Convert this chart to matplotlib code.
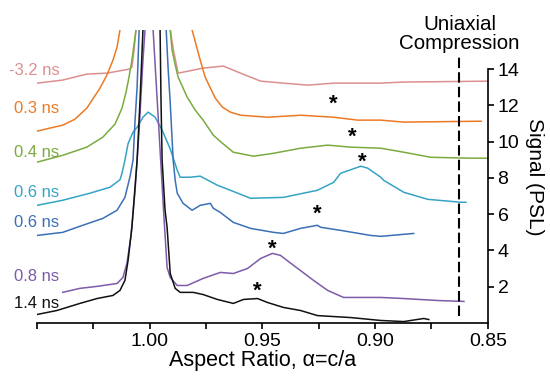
import matplotlib.pyplot as plt
from matplotlib.ticker import MultipleLocator

plt.rcParams['font.family'] = ['Liberation Sans', 'DejaVu Sans']

# traces (x = aspect ratio, y = signal + offset)
pink_x = [1.050, 1.0386, 1.0279, 1.0190, 1.0088, 1.0079, 1.0070, 1.0061, 1.002, 0.996,
          0.9909, 0.9894, 0.9874, 0.9763, 0.9673, 0.9597, 0.9508, 0.9407, 0.9300, 0.9184,
          0.8975, 0.8873, 0.8494]
pink_y = [13.23, 13.40, 13.73, 13.78, 14.01, 14.12, 15.0, 16.16, 20, 20,
          16.16, 15.0, 13.78, 14.06, 14.17, 13.78, 13.34, 13.23, 13.12, 13.23,
          13.23, 13.29, 13.34]

orange_x = [1.050, 1.0443, 1.0386, 1.0332, 1.0279, 1.0221, 1.0190, 1.0163, 1.0145, 1.0132,
            1.008, 1.000, 0.990, 0.9812, 0.9794, 0.9776, 0.9754, 0.9731, 0.9709, 0.9678,
            0.9642, 0.9597, 0.9477, 0.9331, 0.9184, 0.9077, 0.8975, 0.8873, 0.8530]
orange_y = [10.58, 10.75, 10.91, 11.24, 11.85, 12.95, 13.67, 14.50, 15.22, 16.16,
            19, 22, 19, 16.16, 15.33, 14.50, 13.56, 12.96, 12.40, 11.91,
            11.63, 11.46, 11.35, 11.46, 11.35, 11.19, 11.19, 11.08, 11.13]

green_x = [1.050, 1.0386, 1.0279, 1.0208, 1.0154, 1.0123, 1.0105, 1.0092, 1.0079, 1.0070,
           1.0061, 1.002, 0.995, 0.9909, 0.9901, 0.9887, 0.9874, 0.9852, 0.9834, 0.9798,
           0.9763, 0.9718, 0.9678, 0.9629, 0.9539, 0.9451, 0.9331, 0.9211, 0.9108, 0.8975,
           0.8873, 0.8753, 0.8575, 0.8494]
green_y = [8.87, 9.25, 9.70, 10.25, 10.97, 11.85, 12.73, 13.56, 14.50, 15.33,
           16.16, 20, 20, 16.16, 15.06, 14.23, 13.56, 12.96, 12.46, 11.74,
           11.19, 10.36, 9.92, 9.42, 9.20, 9.36, 9.64, 9.81, 9.70, 9.64,
           9.42, 9.14, 9.09, 9.09]

teal_x = [1.050, 1.0386, 1.0265, 1.0176, 1.0132, 1.0123, 1.0110, 1.0096, 1.0074, 1.0056,
          1.0030, 1.0007, 0.9976, 0.9945, 0.9909, 0.9878, 0.9865, 0.9821, 0.9776, 0.9700,
          0.9642, 0.9553, 0.9407, 0.9256, 0.9184, 0.9153, 0.9077, 0.9064, 0.9033, 0.8975,
          0.8962, 0.8873, 0.8766, 0.8619, 0.8597]
teal_y = [6.49, 6.77, 7.16, 7.49, 7.9, 8.26, 8.98, 9.9, 10.53, 10.80,
          11.35, 11.63, 11.35, 10.64, 9.6, 8.43, 8.04, 8.04, 8.10, 7.6,
          7.32, 6.88, 6.93, 7.32, 7.76, 8.26, 8.59, 8.65, 8.54, 8.04,
          7.87, 7.21, 6.82, 6.66, 6.66]

blue_x = [1.050, 1.0386, 1.0297, 1.0208, 1.0145, 1.0110, 1.0088, 1.0074, 1.0065, 1.0056,
          1.0047, 1.002, 0.997, 0.9927, 0.9918, 0.9909, 0.9896, 0.9887, 0.9878, 0.9852,
          0.9812, 0.9776, 0.9731, 0.9718, 0.9687, 0.9629, 0.9553, 0.9451, 0.9407, 0.9331,
          0.9256, 0.9242, 0.9153, 0.9020, 0.8975, 0.8829]
blue_y = [4.83, 5.00, 5.39, 5.77, 6.22, 6.93, 8.04, 8.98, 11.19, 13.01,
          16.16, 22, 22, 16.16, 13.95, 12.13, 8.98, 7.87, 7.16, 6.60,
          6.22, 6.49, 6.60, 6.33, 6.10, 5.55, 5.22, 5.00, 4.94, 5.22,
          5.39, 5.28, 5.11, 4.83, 4.78, 4.94]

purple_x = [1.0386, 1.0310, 1.0234, 1.0145, 1.0119, 1.0101, 1.0083, 1.0065, 1.0047, 1.0030,
            1.0021, 1.000, 0.9985, 0.9972, 0.9954, 0.9936, 0.9923, 0.9909, 0.9878, 0.9834,
            0.9763, 0.9687, 0.9629, 0.9566, 0.9508, 0.9456, 0.9420, 0.9362, 0.9273, 0.9211,
            0.9140, 0.8975, 0.8873, 0.8721, 0.8606]
purple_y = [1.69, 1.91, 2.02, 2.18, 2.51, 3.29, 4.83, 7.32, 10.64, 14.50,
            16.16, 20, 16.16, 13.40, 9.53, 5.66, 3.07, 2.51, 2.07, 2.07,
            2.46, 2.79, 2.73, 3.01, 3.56, 3.84, 3.73, 3.18, 2.35, 1.80,
            1.41, 1.41, 1.35, 1.24, 1.19]

black_x = [1.050, 1.0412, 1.0310, 1.0234, 1.0163, 1.0132, 1.0110, 1.0096, 1.0079, 1.0056,
           1.0043, 1.0030, 1.000, 0.9954, 0.9950, 0.9945, 0.9932, 0.9923, 0.9909, 0.9887,
           0.9865, 0.9807, 0.9763, 0.9700, 0.9629, 0.9584, 0.9522, 0.9477, 0.9407, 0.9331,
           0.9256, 0.9108, 0.8975, 0.8873, 0.8784, 0.8762]
black_y = [0.47, 0.69, 1.08, 1.35, 1.52, 1.80, 2.35, 3.45, 5.28, 8.98,
           12.29, 16.16, 22, 16.16, 12.29, 8.98, 6.22, 5.28, 2.73, 1.91,
           1.69, 1.69, 1.57, 1.30, 1.08, 1.30, 1.35, 1.13, 0.86, 0.69,
           0.41, 0.30, 0.14, 0.08, 0.25, 0.19]

labels = ["-3.2 ns", "0.3 ns", "0.4 ns", "0.6 ns", "0.6 ns", "0.8 ns", "1.4 ns"]
label_y = [13.95, 11.85, 9.42, 7.21, 5.55, 2.57, 1.08]
colors = ["#dc8f8f", "#ec7a25", "#7aab3e", "#35a4c4", "#3b70b6", "#7c5ba8", "#111111"]

star_x = [0.9184, 0.9100, 0.9056, 0.9256, 0.9456, 0.9522]
star_y = [12.07, 10.25, 8.87, 6.00, 4.06, 1.74]

compression_x = 0.863

traces = [(pink_x, pink_y), (orange_x, orange_y), (green_x, green_y), (teal_x, teal_y),
          (blue_x, blue_y), (purple_x, purple_y), (black_x, black_y)]

fig = plt.figure(figsize=(5.5, 3.77), dpi=100)
ax = fig.add_axes([0.0673, 0.1432, 0.8197, 0.7772])

for (xs, ys), c in zip(traces, colors):
    ax.plot(xs, ys, color=c, lw=1.1)

for lab, ly, c in zip(labels, label_y, colors):
    ax.text(1.040, ly, lab, color=c, fontsize=12, ha='right', va='center', clip_on=False)

for sx, sy in zip(star_x, star_y):
    ax.text(sx, sy, "*", fontsize=16, fontweight='bold', ha='center', va='center')

ax.plot([compression_x, compression_x], [0.4, 14.7], color='black', lw=1.5,
        linestyle=(0, (5, 2)))
ax.text(compression_x - 0.0005, 15.94, "Uniaxial\nCompression", fontsize=14.8, ha='center',
        va='center', linespacing=1.05, clip_on=False)

ax.set_xlim(1.05, 0.85)
ax.set_ylim(0, 16.16)
ax.xaxis.set_minor_locator(MultipleLocator(0.025))
ax.set_xticks([1.00, 0.95, 0.90, 0.85])
ax.set_xticklabels(["1.00", "0.95", "0.90", "0.85"])
ax.yaxis.tick_right()
ax.yaxis.set_label_position('right')
ax.set_yticks([2, 4, 6, 8, 10, 12, 14])
ax.tick_params(axis='both', which='both', direction='out', length=4, width=1.2,
               labelsize=14, pad=3)

ax.spines['top'].set_visible(False)
ax.spines['left'].set_visible(False)
ax.spines['right'].set_bounds(0, 14)
for s in ['bottom', 'right']:
    ax.spines[s].set_linewidth(1.2)

ax.set_xlabel("Aspect Ratio, \u03b1=c/a", fontsize=15.5, labelpad=0)
ax.set_ylabel("Signal (PSL)", fontsize=15, rotation=270, labelpad=18)

fig.savefig("out.png", dpi=100)
